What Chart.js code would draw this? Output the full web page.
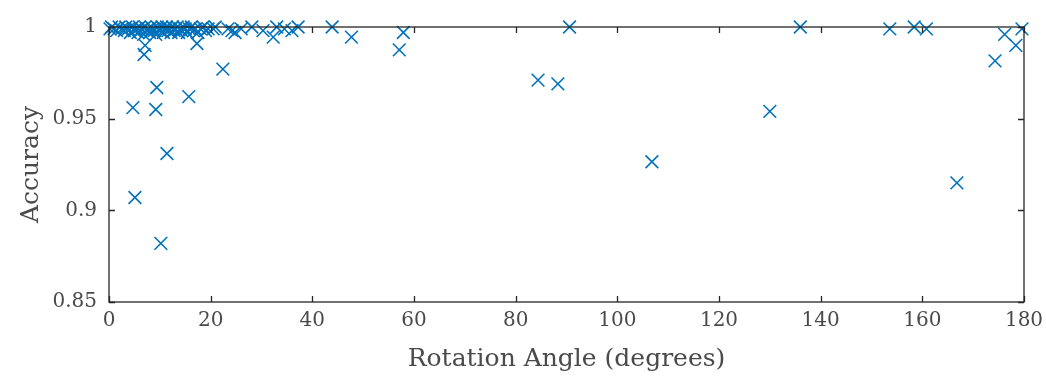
<!DOCTYPE html>
<html>
<head>
<meta charset="utf-8">
<script src="https://cdn.jsdelivr.net/npm/chart.js@4/dist/chart.umd.min.js"></script>
<style>
  html, body { margin: 0; padding: 0; background: #fff; }
  #wrap { width: 1046px; height: 377px; }
</style>
</head>
<body>
<div id="wrap"><canvas id="chart"></canvas></div>
<script>
// rotation angle (degrees) of each test case
var angles = [
  0.2, 0.5, 1.0, 1.5, 2.0, 2.5, 3.0, 3.3, 3.8, 4.2, 4.6, 5.0, 5.3, 5.7, 6.0, 6.2, 6.5, 6.8,
  7.1, 7.4, 7.7, 8.0, 8.3, 8.6, 8.9, 9.2, 9.5, 9.8, 10.1, 10.4, 10.7, 11.0, 11.3, 11.6,
  11.9, 12.2, 12.5, 12.8, 13.1, 13.4, 13.7, 14.0, 14.3, 14.6, 15.0, 15.4, 15.8, 16.2,
  16.6, 17.0, 17.5, 18.0, 18.5, 19.0, 19.5, 20.5, 20.9, 23.4, 24.2, 24.8, 26.0, 28.1,
  30.3, 32.3, 33.0, 34.5, 36.0, 37.2, 43.9, 47.7, 57.1, 57.9,
  4.7, 5.1, 6.9, 7.1, 9.4, 9.2, 10.2, 11.4, 15.7, 17.3, 22.4,
  84.4, 88.3, 90.6, 106.8, 130.0, 136.0, 153.6, 158.4, 160.8, 166.8, 174.3, 176.2,
  178.4, 179.6
];
// accuracy for each case
var accuracy = [
  0.999, 1.000, 0.999, 0.998, 1.000, 0.999, 0.998, 1.000, 0.999, 0.997, 1.000, 0.998, 0.999, 0.997, 1.000, 0.998, 0.999, 0.996,
  1.000, 0.998, 0.999, 0.997, 1.000, 0.999, 0.998, 0.996, 1.000, 0.999, 0.998, 1.000, 0.997, 0.999, 1.000, 0.998,
  0.999, 0.997, 1.000, 0.998, 0.999, 1.000, 0.997, 0.999, 0.998, 1.000, 0.999, 0.997, 0.999, 1.000,
  0.998, 0.999, 0.997, 0.999, 1.000, 0.998, 0.999, 0.999, 1.000, 0.999, 0.998, 0.997, 0.999, 1.000,
  0.998, 0.9945, 1.000, 0.999, 0.998, 1.000, 1.000, 0.9945, 0.9875, 0.997,
  0.956, 0.907, 0.985, 0.990, 0.967, 0.955, 0.882, 0.931, 0.962, 0.991, 0.977,
  0.971, 0.969, 1.000, 0.9265, 0.954, 1.000, 0.999, 1.000, 0.999, 0.915, 0.9815, 0.996,
  0.990, 0.999
];
var xTicks = [0, 20, 40, 60, 80, 100, 120, 140, 160, 180];
var yTicks = [0.85, 0.9, 0.95, 1];

var points = angles.map(function(a, i) { return { x: a, y: accuracy[i] }; });

var fontFam = "'DejaVu Serif', 'Liberation Serif', serif";
var textCol = "#4a4a4a";

// MATLAB-style box with inward ticks on all four sides
var boxPlugin = {
  id: 'box',
  afterDatasetsDraw: function(chart) {
    var ctx = chart.ctx, a = chart.chartArea;
    var xs = chart.scales.x, ys = chart.scales.y;
    var len = 6;
    ctx.save();
    ctx.strokeStyle = "#262626";
    ctx.lineWidth = 1.3;
    ctx.strokeRect(a.left, a.top, a.right - a.left, a.bottom - a.top);
    ctx.beginPath();
    xTicks.forEach(function(v) {
      var px = Math.round(xs.getPixelForValue(v)) + 0.5;
      ctx.moveTo(px, a.bottom); ctx.lineTo(px, a.bottom - len);
      ctx.moveTo(px, a.top); ctx.lineTo(px, a.top + len);
    });
    yTicks.forEach(function(v) {
      var py = Math.round(ys.getPixelForValue(v)) + 0.5;
      ctx.moveTo(a.left, py); ctx.lineTo(a.left + len, py);
      ctx.moveTo(a.right, py); ctx.lineTo(a.right - len, py);
    });
    ctx.stroke();
    ctx.restore();
  }
};

new Chart(document.getElementById('chart'), {
  type: 'scatter',
  data: {
    datasets: [{
      data: points,
      pointStyle: 'crossRot',
      pointRadius: 9,
      pointHoverRadius: 9,
      borderColor: '#0072BD',
      backgroundColor: '#0072BD',
      borderWidth: 1.6,
      clip: false
    }]
  },
  options: {
    responsive: true,
    maintainAspectRatio: false,
    animation: false,
    layout: { padding: { top: 27, right: 22, left: 0, bottom: 0 } },
    plugins: { legend: { display: false }, tooltip: { enabled: false } },
    scales: {
      x: {
        type: 'linear',
        min: 0, max: 180,
        afterFit: function(s) { s.height = 75; s.paddingLeft = 0; s.paddingRight = 0; },
        afterBuildTicks: function(s) { s.ticks = xTicks.map(function(v) { return { value: v }; }); },
        grid: { display: false, drawTicks: false },
        border: { display: false },
        ticks: { color: textCol, padding: 7, font: { family: fontFam, size: 20 }, maxRotation: 0 },
        title: { display: true, text: 'Rotation Angle (degrees)', color: textCol,
                 font: { family: fontFam, size: 25 }, padding: { top: 0, bottom: 3 } }
      },
      y: {
        type: 'linear',
        min: 0.85, max: 1,
        afterFit: function(s) { s.width = 109; s.paddingTop = 0; s.paddingBottom = 0; },
        afterBuildTicks: function(s) { s.ticks = yTicks.map(function(v) { return { value: v }; }); },
        grid: { display: false, drawTicks: false },
        border: { display: false },
        ticks: { color: textCol, padding: 12, font: { family: fontFam, size: 20 },
                 callback: function(v) { return String(v); } },
        title: { display: true, text: 'Accuracy', color: textCol,
                 font: { family: fontFam, size: 25 }, padding: { top: 16, bottom: 0 } }
      }
    }
  },
  plugins: [boxPlugin]
});
</script>
</body>
</html>
